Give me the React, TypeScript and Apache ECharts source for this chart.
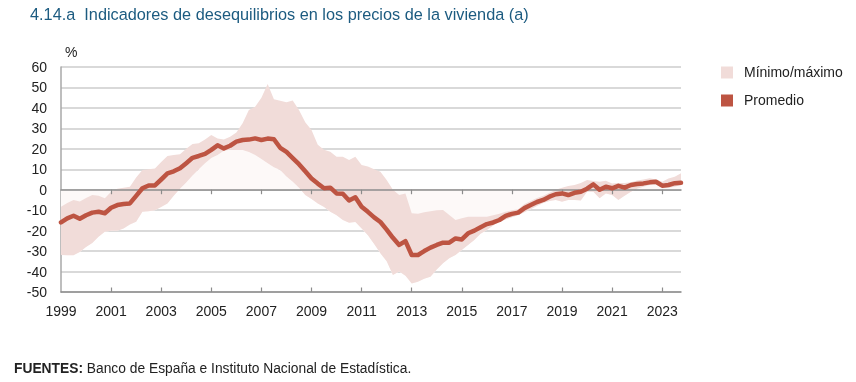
import React, { useEffect, useRef } from "react";
import * as echarts from "echarts";

const years = [1999, 2000, 2001, 2002, 2003, 2004, 2005, 2006, 2007, 2008, 2009, 2010, 2011, 2012, 2013, 2014, 2015, 2016, 2017, 2018, 2019, 2020, 2021, 2022, 2023];
const quarterNames = ["I", "II", "III", "IV"];
const categories = years.flatMap((y) => quarterNames.map((q) => `${y} ${q}`));

const promedio = [
  -16, -14, -12.7, -14.2, -12.5, -11.2, -10.8, -11.5,
  -8.8, -7.5, -7, -6.7, -3, 0.7, 2.1, 2.1,
  5, 8, 9, 10.5, 13, 15.6, 16.5, 17.5,
  19.5, 21.7, 20.2, 21.5, 23.5, 24.3, 24.5, 25.1,
  24.3, 25, 24.7, 20.5, 18.5, 15.5, 12.5, 9,
  5.5, 3, 0.7, 1.0, -1.8, -2.0, -5.3, -3.7,
  -8.3, -10.8, -13.5, -15.8, -19.5, -23.5, -27, -25.1,
  -31.9, -31.9, -30, -28.3, -27, -25.9, -25.9, -23.8,
  -24.3, -21.3, -20, -18.3, -16.8, -16, -14.8, -12.8,
  -11.8, -11.2, -9, -7.5, -6, -5, -3.4, -2.2,
  -1.8, -2.6, -1.5, -1.0, 0.5, 2.6, 0, 1.5,
  0.7, 1.9, 1.0, 2.3, 2.8, 3.1, 3.6, 3.9,
  2.0, 2.3, 3.2, 3.4,
];

const maximo = [
  -8.3, -6.5, -5, -5.8, -4, -2.6, -3, -4.2,
  -1, 0.5, 1.0, 1.5, 6, 9.6, 10, 10.4,
  13.5, 16.5, 17, 17.3, 20, 22.3, 22.7, 24.5,
  26.7, 25, 24.6, 25.9, 28, 32.5, 39, 40.6,
  45, 51.7, 44.2, 43.5, 42.8, 43.6, 39, 33,
  29.2, 22, 19.5, 18.6, 16.1, 16.1, 14.5, 16.1,
  12.1, 11.3, 10, 8.8, 4.7, 0, -2.6, -1.8,
  -11.5, -11.8, -11, -10.5, -10, -9.9, -12.4, -14.8,
  -14, -13.2, -13.2, -13.2, -13.2, -12.5, -11.8, -10.8,
  -10, -9.5, -7, -5.5, -4, -3, -1.5, 0,
  1, 1.8, 2.3, 3.3, 4.7, 4.3, 3.9, 4.4,
  3.1, 3.3, 3.3, 3.6, 4.5, 5, 5.6, 5,
  3.9, 5.5, 6.4, 8,
];

const minimo = [
  -31.9, -32, -32, -30.5, -28, -26, -23, -20.5,
  -20, -20, -19, -17, -15.6, -10.8, -10.5, -10,
  -8.5, -6.7, -3, 0.5, 3.5, 7, 10, 13,
  15.5, 17, 19, 19.5, 19.4, 19.4, 18.5, 17,
  15, 12.9, 11, 9.6, 6.5, 3.9, 1, -2.6,
  -4.5, -6.7, -8.5, -10.8, -12.5, -14.8, -16.1, -15.8,
  -19, -22.2, -26.5, -31.1, -35, -41.7, -40, -42,
  -45.8, -45, -43.5, -42.5, -39, -36, -33.5, -31.9,
  -29.5, -27, -24.6, -21.5, -19.7, -17.5, -15.6, -14.5,
  -13.5, -12.5, -11, -9.5, -8, -6.5, -5.5, -5,
  -5.9, -5, -5, -5.3, -1, -1, -4.2, -1.8,
  -2.6, -5, -3, -1, 0.5, 1.5, 2.3, 2.5,
  0.7, 1, 1.5, 2.3,
];

const bandWidth = maximo.map((v, i) => +(v - minimo[i]).toFixed(2));

const titleText = "4.14.a  Indicadores de desequilibrios en los precios de la vivienda (a)";
const legendNames = ["Mínimo/máximo", "Promedio"];
const sourceText = "{b|FUENTES:} Banco de España e Instituto Nacional de Estadística.";

const FONT = '"Liberation Sans", Arial, Helvetica, sans-serif';
const LINE_COLOR = "#bd5442";
const BAND_COLOR = "#f1dcd9";
const ZERO_COLOR = "#8c8c8c";

const tickEvery2Years = (idx: number) => idx % 8 === 0 && idx > 0;

export default function App() {
  const ref = useRef<HTMLDivElement>(null);

  useEffect(() => {
    if (!ref.current) return;
    const chart = echarts.init(ref.current, undefined, { renderer: "svg" });
    const zeroAxisBase = {
      type: "category",
      data: categories,
      boundaryGap: false,
      position: "bottom",
      z: 3,
      axisLine: { show: true, onZero: true, lineStyle: { color: ZERO_COLOR, width: 1.5 } },
      axisLabel: { show: false },
      splitLine: { show: false },
    };
    chart.setOption({
      animation: false,
      textStyle: { fontFamily: FONT },
      grid: { left: 61, right: 175, top: 67, bottom: 90, containLabel: false },
      xAxis: [
        {
          type: "category",
          data: categories,
          boundaryGap: false,
          position: "bottom",
          axisLine: { show: false, onZero: false },
          axisTick: { show: false },
          axisLabel: {
            interval: (idx: number) => idx % 8 === 0,
            formatter: (v: string) => v.slice(0, 4),
            fontSize: 14,
            color: "#222",
            margin: 12,
            fontFamily: FONT,
          },
          splitLine: { show: false },
        },
        {
          ...zeroAxisBase,
          axisTick: { show: true, interval: tickEvery2Years, length: 4.5, inside: false, lineStyle: { color: ZERO_COLOR, width: 1.2 } },
        },
        {
          ...zeroAxisBase,
          axisTick: { show: true, interval: tickEvery2Years, length: 4.5, inside: true, lineStyle: { color: ZERO_COLOR, width: 1.2 } },
        },
      ],
      yAxis: {
        type: "value",
        min: -50,
        max: 60,
        interval: 10,
        axisLine: { show: true, lineStyle: { color: "#a8a8a8", width: 1.5 } },
        axisTick: { show: false },
        axisLabel: { fontSize: 14, color: "#222", margin: 14, fontFamily: FONT },
        splitLine: { show: true, lineStyle: { color: "#cccccc", width: 1.5 } },
      },
      series: [
        {
          name: "base",
          type: "line",
          stack: "band",
          stackStrategy: "all",
          data: minimo,
          showSymbol: false,
          symbol: "none",
          lineStyle: { opacity: 0, width: 0 },
          areaStyle: { color: "#fdf9f8", opacity: 1 },
          z: 1,
          silent: true,
        },
        {
          name: legendNames[0],
          type: "line",
          stack: "band",
          stackStrategy: "all",
          data: bandWidth,
          showSymbol: false,
          symbol: "none",
          lineStyle: { opacity: 0, width: 0 },
          areaStyle: { color: BAND_COLOR, opacity: 1 },
          z: 2,
          silent: true,
        },
        {
          name: legendNames[1],
          type: "line",
          data: promedio,
          showSymbol: false,
          symbol: "none",
          lineStyle: { color: LINE_COLOR, width: 4.5, join: "round", cap: "round" },
          z: 5,
          silent: true,
        },
      ],
      graphic: [
        {
          type: "text",
          left: 30,
          top: 6,
          style: { text: titleText, fontSize: 16.3, fill: "#1c5b80", fontFamily: FONT },
        },
        {
          type: "text",
          left: 65,
          top: 45,
          style: { text: "%", fontSize: 14, fill: "#222", fontFamily: FONT },
        },
        { type: "rect", shape: { x: 721, y: 66.5, width: 12, height: 12 }, style: { fill: BAND_COLOR } },
        {
          type: "text",
          left: 744,
          top: 64.5,
          style: { text: legendNames[0], fontSize: 14, fill: "#222", fontFamily: FONT },
        },
        { type: "rect", shape: { x: 721, y: 94.5, width: 12, height: 12 }, style: { fill: LINE_COLOR } },
        {
          type: "text",
          left: 744,
          top: 92.5,
          style: { text: legendNames[1], fontSize: 14, fill: "#222", fontFamily: FONT },
        },
        {
          type: "text",
          left: 14,
          top: 361.5,
          style: {
            text: sourceText,
            fontSize: 13.8,
            fill: "#222",
            fontFamily: FONT,
            rich: { b: { fontWeight: "bold", fontSize: 13.8, fill: "#222", fontFamily: FONT } },
          },
        },
      ],
    });
    return () => chart.dispose();
  }, []);

  return <div ref={ref} style={{ position: "fixed", left: 0, top: 0, width: 856, height: 382 }} />;
}
